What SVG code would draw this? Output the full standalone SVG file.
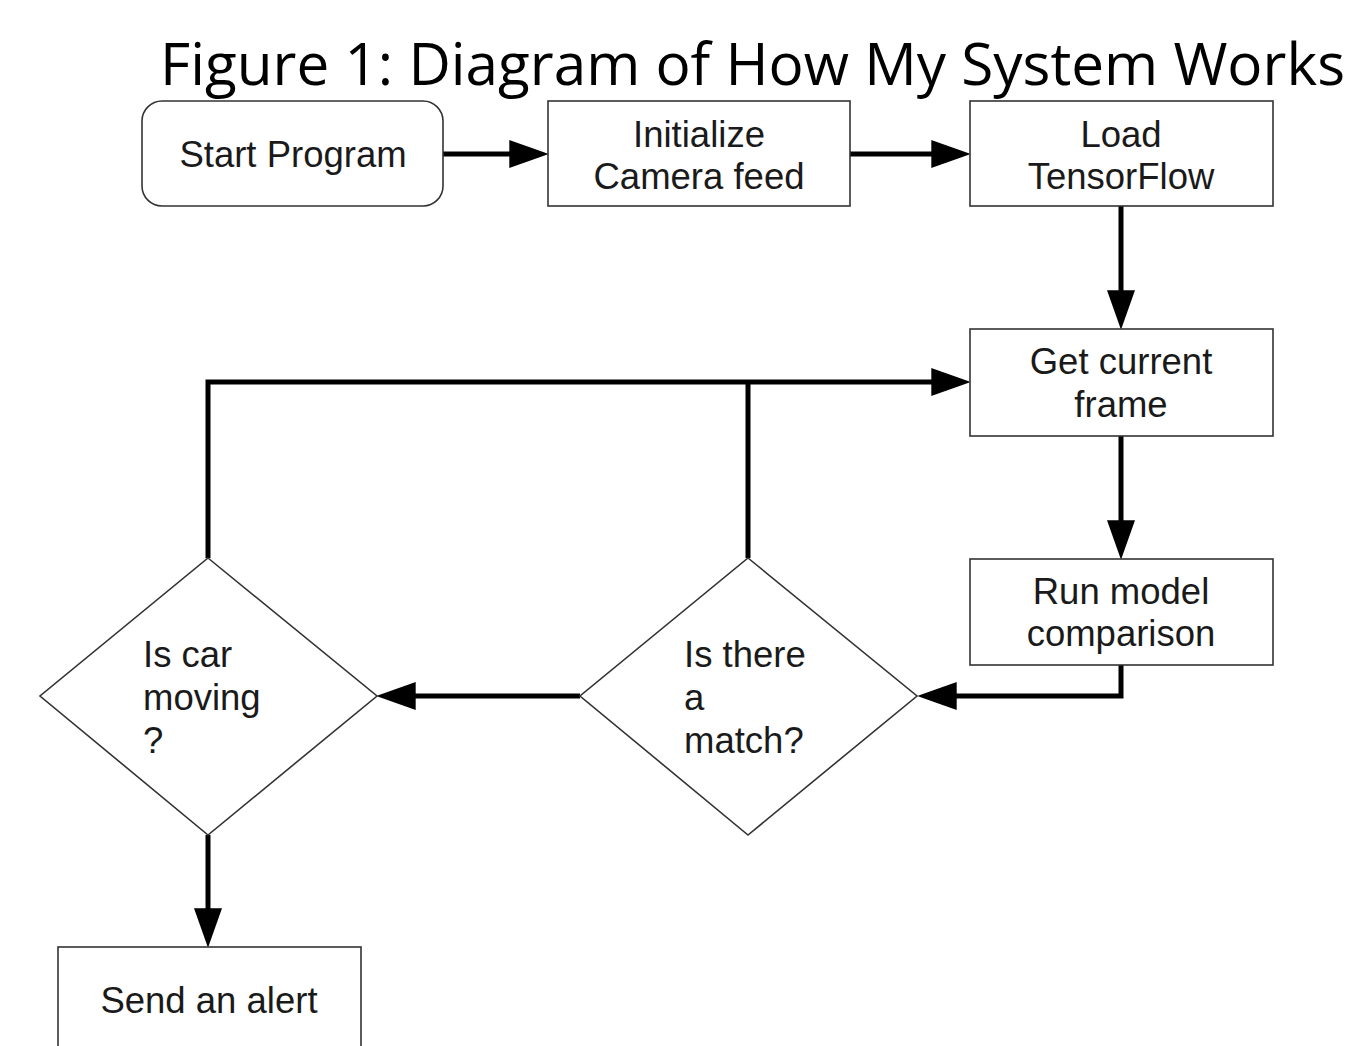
<svg xmlns="http://www.w3.org/2000/svg" width="1349" height="1046" viewBox="0 0 1349 1046">
<style>
.box{fill:#fff;stroke:#333;stroke-width:1.6}
.lbl{font-family:"Liberation Sans",Arial,sans-serif;font-size:36.5px;fill:#1a1a1a}
.c{text-anchor:middle}
.conn{fill:none;stroke:#000;stroke-width:5}
.title{font-family:"Open Sans","Noto Sans",sans-serif;font-size:58px;fill:#000}
</style>
<defs>
<marker id="ah" markerUnits="userSpaceOnUse" markerWidth="40" markerHeight="28" viewBox="0 0 38 27" refX="18" refY="13.5" orient="auto">
<path d="M0,0 L38,13.5 L0,27 z" fill="#000"/>
</marker>
</defs>
<rect width="1349" height="1046" fill="#fff"/>
<text class="title" x="160" y="85" textLength="1185" lengthAdjust="spacingAndGlyphs">Figure 1: Diagram of How My System Works</text>

<g id="connectors">
<path class="conn" d="M443,154 L528,154" marker-end="url(#ah)"/>
<path class="conn" d="M850,154 L950,154" marker-end="url(#ah)"/>
<path class="conn" d="M1121,206 L1121,309" marker-end="url(#ah)"/>
<path class="conn" d="M1121,436 L1121,539" marker-end="url(#ah)"/>
<path class="conn" d="M1121,665 L1121,696 L938,696" marker-end="url(#ah)"/>
<path class="conn" d="M580,696 L397,696" marker-end="url(#ah)"/>
<path class="conn" d="M208,835 L208,927" marker-end="url(#ah)"/>
<path class="conn" d="M208,558 L208,382 L950,382" marker-end="url(#ah)"/>
<path class="conn" d="M748,558 L748,382"/>
</g>

<g id="start">
<rect class="box" x="142" y="101" width="301" height="105" rx="20" ry="20"/>
<text class="lbl c" x="293" y="167">Start Program</text>
</g>
<g id="init">
<rect class="box" x="548" y="101" width="302" height="105"/>
<text class="lbl c" x="699" y="147">Initialize</text>
<text class="lbl c" x="699" y="189">Camera feed</text>
</g>
<g id="load">
<rect class="box" x="970" y="101" width="303" height="105"/>
<text class="lbl c" x="1121" y="147">Load</text>
<text class="lbl c" x="1121" y="189">TensorFlow</text>
</g>
<g id="frame">
<rect class="box" x="970" y="329" width="303" height="107"/>
<text class="lbl c" x="1121" y="374">Get current</text>
<text class="lbl c" x="1121" y="417">frame</text>
</g>
<g id="model">
<rect class="box" x="970" y="559" width="303" height="106"/>
<text class="lbl c" x="1121" y="604">Run model</text>
<text class="lbl c" x="1121" y="646">comparison</text>
</g>
<g id="match">
<polygon class="box" points="748,558 917,696 748,835 580,696"/>
<text class="lbl" x="684" y="667">Is there</text>
<text class="lbl" x="684" y="710">a</text>
<text class="lbl" x="684" y="753">match?</text>
</g>
<g id="moving">
<polygon class="box" points="208,558 377,696 208,835 40,696"/>
<text class="lbl" x="143" y="667">Is car</text>
<text class="lbl" x="143" y="710">moving</text>
<text class="lbl" x="143" y="753">?</text>
</g>
<g id="alert">
<rect class="box" x="58" y="947" width="303" height="130"/>
<text class="lbl c" x="209" y="1013">Send an alert</text>
</g>
</svg>
